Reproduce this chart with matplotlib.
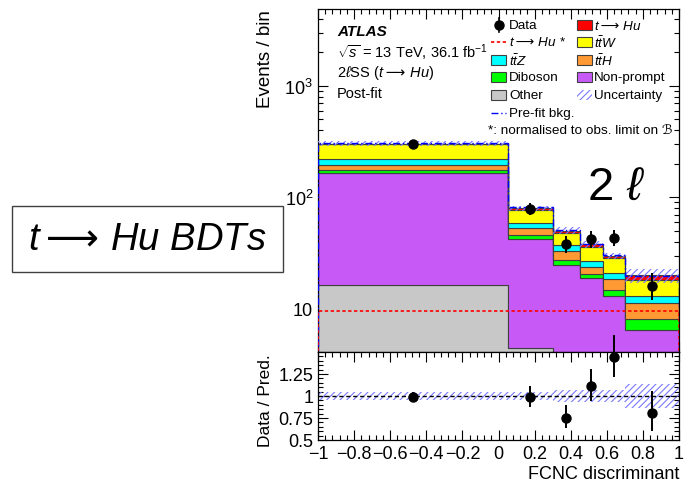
import numpy as np
import matplotlib
matplotlib.use("Agg")
import matplotlib.pyplot as plt
from matplotlib.patches import Rectangle
from matplotlib.lines import Line2D
from matplotlib.ticker import FixedLocator, MultipleLocator, LogLocator, NullFormatter, FuncFormatter

plt.rcParams['font.family'] = ['Liberation Sans', 'DejaVu Sans']
plt.rcParams['mathtext.fontset'] = 'custom'
plt.rcParams['mathtext.rm'] = 'DejaVu Sans'
plt.rcParams['mathtext.it'] = 'Liberation Sans:italic'
plt.rcParams['mathtext.bf'] = 'Liberation Sans:bold'
plt.rcParams['mathtext.sf'] = 'Liberation Sans'
plt.rcParams['hatch.linewidth'] = 0.8

# ---------------- data ----------------
bin_edges = [-1.0, 0.05, 0.30, 0.45, 0.58, 0.70, 1.0]
other = [16.5, 4.4, 3.5, 3.0, 2.5, 2.5]
nonprompt = [148.5, 37.5, 21.4, 16.0, 10.4, 4.0]
diboson = [12.0, 4.2, 2.8, 1.6, 1.7, 1.65]
tth = [20.0, 6.9, 5.2, 3.3, 4.0, 3.2]
ttz = [24.0, 5.7, 4.1, 3.2, 2.4, 1.7]
ttw = [81.0, 18.3, 11.4, 9.1, 7.5, 5.0]
thu = [2.0, 3.0, 2.0, 1.6, 1.4, 1.9]
data = [300, 79, 38, 42, 43, 16]
data_err_lo = [17.0, 8.9, 6.2, 6.5, 6.6, 4.0]
data_err_hi = [18.0, 9.9, 7.2, 7.5, 7.6, 5.1]
rel_unc = [0.045, 0.05, 0.07, 0.07, 0.07, 0.14]
prefit_bkg = [306, 82, 51, 38.5, 30.5, 19.8]
signal_norm = [9.5, 9.5, 9.5, 9.5, 9.5, 9.6]

layers = [
    ("Other", other, '#c8c8c8'),
    ("Non-prompt", nonprompt, '#c75af7'),
    ("Diboson", diboson, '#00ff00'),
    ("ttH", tth, '#ff9933'),
    ("ttZ", ttz, '#00ffff'),
    ("ttW", ttw, '#ffff00'),
    ("tHu", thu, '#ff0000'),
]

edges = np.array(bin_edges)
centers = 0.5 * (edges[:-1] + edges[1:])

fig = plt.figure(figsize=(6.84, 4.85), dpi=100)
W, H = 684, 485
L, R = 318 / W, 679 / W
top_px, mid_px, bot_px = 10, 353, 441
ax = fig.add_axes([L, 1 - mid_px / H, R - L, (mid_px - top_px) / H])
axr = fig.add_axes([L, 1 - bot_px / H, R - L, (bot_px - mid_px) / H], sharex=ax)

ax.set_yscale('log')
ymin, ymax = 4.1, 4900
base = np.full(len(data), 0.01)
for name, vals, col in layers:
    v = np.array(vals, dtype=float)
    ax.stairs(base + v, edges, baseline=base, fill=True, facecolor=col,
              edgecolor='#404040', linewidth=0.8, zorder=2)
    base = base + v
total = base

hatch_col = '#7878ff'
unc = np.array(rel_unc)
ax.stairs(total * (1 + unc), edges, baseline=total * (1 - unc), fill=True,
          facecolor='none', edgecolor=hatch_col, hatch='/////', linewidth=0, zorder=3)
ax.stairs(prefit_bkg, edges, color='#0000ff', linestyle=(0, (5, 2, 1, 2)), linewidth=1.0, zorder=4)
ax.stairs(signal_norm, edges, color='#ff0000', linestyle=(0, (2, 1.5)), linewidth=1.2, zorder=4)

ax.errorbar(centers, data, yerr=[data_err_lo, data_err_hi], fmt='o', color='black',
            markersize=6.5, elinewidth=1.4, capsize=0, zorder=6)

ax.set_ylim(ymin, ymax)
ax.set_xlim(-1, 1)
ax.yaxis.set_major_locator(FixedLocator([10, 100, 1000]))
ax.yaxis.set_major_formatter(FuncFormatter(lambda v, p: {10: '10', 100: '$\\mathsf{10^2}$', 1000: '$\\mathsf{10^3}$'}.get(int(round(v)), '')))
ax.yaxis.set_minor_locator(LogLocator(base=10, subs=np.arange(2, 10)))
ax.yaxis.set_minor_formatter(NullFormatter())
for a in (ax, axr):
    a.tick_params(which='both', direction='in', top=True, right=True, labelsize=13)
    a.tick_params(which='major', length=7, width=0.8)
    a.tick_params(which='minor', length=3.5, width=0.8)
    a.xaxis.set_major_locator(MultipleLocator(0.2))
    a.xaxis.set_minor_locator(MultipleLocator(0.04))
    for s in a.spines.values():
        s.set_linewidth(0.9)
ax.tick_params(labelbottom=False)

# ratio panel
ratio = np.array(data) / total
ratio_lo = np.array(data_err_lo) / total
ratio_hi = np.array(data_err_hi) / total
axr.stairs(1 + unc, edges, baseline=1 - unc, fill=True, facecolor='none',
           edgecolor=hatch_col, hatch='/////', linewidth=0, zorder=2)
axr.axhline(1.0, color='black', linestyle=(0, (3, 2)), linewidth=1.0, zorder=3)
axr.errorbar(centers, ratio, yerr=[ratio_lo, ratio_hi], fmt='o', color='black',
             markersize=6.5, elinewidth=1.4, capsize=0, zorder=6, clip_on=False)
axr.set_ylim(0.5, 1.5)
axr.set_xlim(-1, 1)
axr.yaxis.set_major_locator(FixedLocator([0.5, 0.75, 1.0, 1.25]))
axr.yaxis.set_major_formatter(FuncFormatter(lambda v, p: {0.5: '0.5', 0.75: '0.75', 1.0: '1', 1.25: '1.25'}.get(round(v, 2), '')))
axr.yaxis.set_minor_locator(MultipleLocator(0.05))
axr.xaxis.set_major_formatter(FuncFormatter(lambda v, p: ('%g' % round(v, 1)).replace('-', '\u2212')))

# axis labels
fig.text(265 / W, 1 - 10 / H, 'Events / bin', rotation=90, ha='center', va='top', fontsize=13.5)
fig.text(265 / W, 1 - 401 / H, 'Data / Pred.', rotation=90, ha='center', va='center', fontsize=12.5)
fig.text(R, 1 - 475 / H, 'FCNC discriminant', ha='right', va='center', fontsize=13)

ARROW = r'\,{-}\!\!\!{\rightarrow}\,'

# ATLAS labels
tx = 0.053
ax.text(tx, 0.936, 'ATLAS', transform=ax.transAxes, fontsize=11, fontweight='bold', style='italic', va='center')
ax.text(tx, 0.875, r'$\sqrt{s}$ = 13 TeV, 36.1 fb$^{\mathsf{-1}}$', transform=ax.transAxes, fontsize=10.5, va='center')
ax.text(tx, 0.816, r'2$\ell$SS ($t' + ARROW + r'Hu$)', transform=ax.transAxes, fontsize=10.5, va='center')
ax.text(tx, 0.755, 'Post-fit', transform=ax.transAxes, fontsize=10.5, va='center')
ax.text(0.825, 0.481, r'2 $\ell$', transform=ax.transAxes, fontsize=34, ha='center', va='center')

# legend (manual)
rows = [0.953, 0.904, 0.851, 0.802, 0.749, 0.697, 0.647]
c1b, c1t, c2b, c2t = 0.479, 0.529, 0.717, 0.765
bw, bh = 0.042, 0.029
lfs = 9.7
def box(x, y, col, hatch=None):
    if hatch:
        ax.add_patch(Rectangle((x, y - bh / 2), bw, bh, transform=ax.transAxes, facecolor='none',
                               edgecolor=hatch_col, hatch='/////', linewidth=0, zorder=7))
    else:
        ax.add_patch(Rectangle((x, y - bh / 2), bw, bh, transform=ax.transAxes, facecolor=col,
                               edgecolor='#404040', linewidth=0.8, zorder=7))
def txt(x, y, s):
    ax.text(x, y, s, transform=ax.transAxes, fontsize=lfs, va='center', zorder=7)

ax.add_line(Line2D([c1b + bw / 2], [rows[0]], transform=ax.transAxes, marker='o', color='black', markersize=6.5, zorder=7))
ax.add_line(Line2D([c1b + bw / 2, c1b + bw / 2], [rows[0] - 0.02, rows[0] + 0.02], transform=ax.transAxes, color='black', lw=1.2, zorder=7))
txt(c1t, rows[0], 'Data')
ax.add_line(Line2D([c1b, c1b + bw], [rows[1], rows[1]], transform=ax.transAxes, color='#ff0000', linestyle=(0, (2, 1.5)), lw=1.2, zorder=7))
txt(c1t, rows[1], r'$t' + ARROW + r'Hu$ *')
box(c1b, rows[2], '#00ffff'); txt(c1t, rows[2], r'$t\bar{t}Z$')
box(c1b, rows[3], '#00ff00'); txt(c1t, rows[3], 'Diboson')
box(c1b, rows[4], '#c8c8c8'); txt(c1t, rows[4], 'Other')
ax.add_line(Line2D([c1b, c1b + bw], [rows[5], rows[5]], transform=ax.transAxes, color='#0000ff', linestyle=(0, (5, 2, 1, 2)), lw=1.0, zorder=7))
txt(c1t, rows[5], 'Pre-fit bkg.')
ax.text(0.471, rows[6], '*: normalised to obs. limit on \u212c', transform=ax.transAxes, fontsize=lfs, va='center', zorder=7)

box(c2b, rows[0], '#ff0000'); txt(c2t, rows[0], r'$t' + ARROW + r'Hu$')
box(c2b, rows[1], '#ffff00'); txt(c2t, rows[1], r'$t\bar{t}W$')
box(c2b, rows[2], '#ff9933'); txt(c2t, rows[2], r'$t\bar{t}H$')
box(c2b, rows[3], '#c75af7'); txt(c2t, rows[3], 'Non-prompt')
box(c2b, rows[4], None, hatch=True); txt(c2t, rows[4], 'Uncertainty')

# left label box
fig.patches.append(Rectangle((12 / W, 1 - 273 / H), 271 / W, 66 / H, transform=fig.transFigure,
                             facecolor='white', edgecolor='#404040', linewidth=1.0))
fig.text(147 / W, 1 - 240 / H, r'$t' + ARROW + r'Hu\ BDTs$', ha='center', va='center', fontsize=27.5)

fig.savefig('out.png', dpi=100)
